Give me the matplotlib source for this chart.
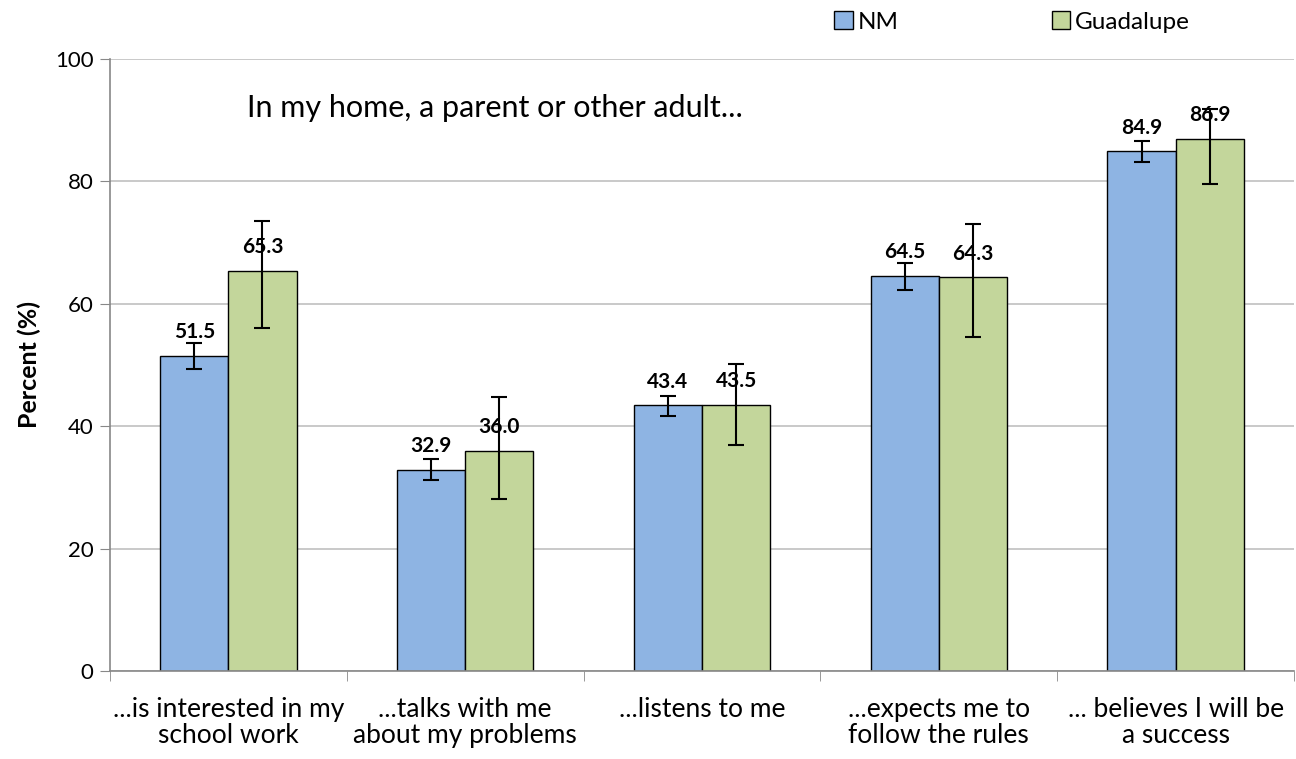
import matplotlib
matplotlib.use("Agg")
import matplotlib.pyplot as plt
import numpy as np
from matplotlib.patches import Patch

plt.rcParams['font.family'] = ['Lato', 'DejaVu Sans']

categories = ["...is interested in my\nschool work", "...talks with me\nabout my problems",
              "...listens to me", "...expects me to\nfollow the rules",
              "... believes I will be\na success"]
nm = [51.5, 32.9, 43.4, 64.5, 84.9]
nm_low = [49.3, 31.2, 41.7, 62.3, 83.1]
nm_high = [53.6, 34.6, 45.0, 66.7, 86.6]
gu = [65.3, 36.0, 43.5, 64.3, 86.9]
gu_low = [56.0, 28.1, 37.0, 54.6, 79.5]
gu_high = [73.6, 44.8, 50.2, 73.0, 91.9]
yticks = [0, 20, 40, 60, 80, 100]

fig = plt.figure(figsize=(12.96, 7.59), dpi=100)
ax = fig.add_axes([110/1296, 1-671/759, 1184/1296, 612/759])

x = np.arange(len(categories))
w = 0.288
c_nm = '#8EB4E3'
c_gu = '#C3D69B'

ax.set_axisbelow(True)
ax.yaxis.grid(True, color='#c0c0c0', linewidth=1.2)

ax.bar(x - w/2, nm, w, color=c_nm, edgecolor='black', linewidth=1)
ax.bar(x + w/2, gu, w, color=c_gu, edgecolor='black', linewidth=1)

nm_err = [np.array(nm) - np.array(nm_low), np.array(nm_high) - np.array(nm)]
gu_err = [np.array(gu) - np.array(gu_low), np.array(gu_high) - np.array(gu)]
ax.errorbar(x - w/2, nm, yerr=nm_err, fmt='none', ecolor='black', elinewidth=1.5,
            capsize=6, capthick=1.5)
ax.errorbar(x + w/2, gu, yerr=gu_err, fmt='none', ecolor='black', elinewidth=1.5,
            capsize=6, capthick=1.5)

for xi, v in zip(x - w/2, nm):
    ax.annotate(f"{v:.1f}", (xi, v), xytext=(0, 10), textcoords='offset points',
                ha='center', va='bottom', fontsize=15, fontweight='bold')
for xi, v in zip(x + w/2, gu):
    ax.annotate(f"{v:.1f}", (xi, v), xytext=(0, 10), textcoords='offset points',
                ha='center', va='bottom', fontsize=15, fontweight='bold')

ax.set_xlim(-0.5, len(categories) - 0.5)
ax.set_ylim(0, 100)
ax.set_yticks(yticks)
ax.tick_params(axis='y', labelsize=16, length=7, color='#888888', pad=5)
ax.set_xticks(x)
ax.set_xticklabels(categories, fontsize=19, linespacing=1.05)
ax.tick_params(axis='x', which='major', length=0, pad=19)
ax.set_xticks(np.arange(-0.5, len(categories)), minor=True)
ax.tick_params(axis='x', which='minor', length=7, color='#888888')

for s in ['top', 'right']:
    ax.spines[s].set_visible(False)
for s in ['left', 'bottom']:
    ax.spines[s].set_color('#888888')
    ax.spines[s].set_linewidth(1.2)

ax.set_ylabel("Percent (%)", fontsize=18, fontweight='bold', labelpad=10)

ax.text(0.116, 0.92, "In my home, a parent or other adult...", transform=ax.transAxes,
        fontsize=22, ha='left', va='center')

handles = [Patch(facecolor=c_nm, edgecolor='black', linewidth=1, label='NM'),
           Patch(facecolor=c_gu, edgecolor='black', linewidth=1, label='Guadalupe')]
fig.legend(handles=handles, loc='center', bbox_to_anchor=(1012/1296, 1-22/759), ncol=2,
           frameon=False, fontsize=17.5, handlelength=0.75, handleheight=0.75,
           handletextpad=0.2, columnspacing=6.3)

fig.savefig("out.png", dpi=100)
